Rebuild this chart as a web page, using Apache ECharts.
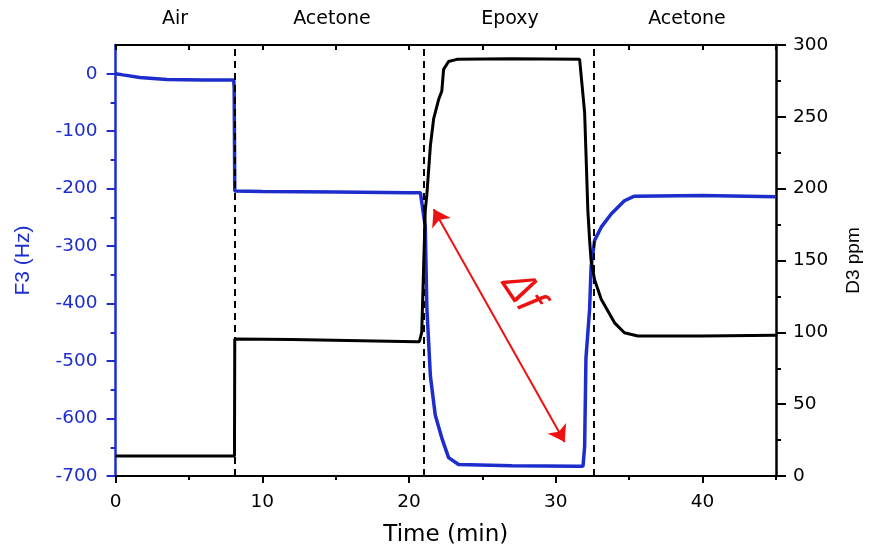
<!DOCTYPE html>
<html>
<head>
<meta charset="utf-8">
<script src="https://cdn.jsdelivr.net/npm/echarts@6/dist/echarts.min.js"></script>
<style>
  html, body { margin: 0; padding: 0; background: #fff; }
  #chart { width: 871px; height: 552px; }
</style>
</head>
<body>
<div id="chart"></div>
<script>
// F3 (Hz), left axis
const blueTime = [0, 0.5, 1.65, 3.5, 6, 8.05, 8.08, 8.12, 10, 15, 20, 20.77, 21.1, 21.21, 21.45, 21.78, 22.23, 22.69, 23.37, 27, 31.51, 31.85, 31.96, 32.05, 32.3, 32.4, 32.64, 33.09, 33.77, 34.67, 35.35, 40, 45];
const blueF3 = [0, -2, -6.5, -10, -11, -11, -25, -204, -205, -206, -207, -207, -266, -408, -526, -594, -634, -668, -680, -682, -683, -683, -649, -495, -409, -336, -290, -267, -244, -221, -213, -212, -214];
// D3 ppm, right axis
const blackTime = [0, 8.1, 8.12, 12, 20.5, 20.7, 20.86, 20.97, 21.1, 21.21, 21.45, 21.67, 22.01, 22.23, 22.35, 22.69, 23.26, 27, 31.62, 31.75, 31.96, 32.07, 32.18, 32.3, 32.4, 32.64, 33.09, 34, 34.67, 35.58, 40, 45];
const blackD3 = [14, 14, 95.4, 95, 93.5, 93.5, 100, 138.7, 184.7, 196, 230, 248.5, 262, 268, 283, 288.5, 290, 290.5, 290, 289, 253, 219, 184.7, 164, 150, 136.6, 123, 106.6, 99.7, 97.5, 97.5, 98];

const switchTimes = [8.12, 21.0, 32.56];
const phaseNames = ['Air', 'Acetone', 'Epoxy', 'Acetone'];
const phaseX = [175, 332, 510, 687];
const arrowFrom = [21.67, -236];
const arrowTo = [30.6, -641];

const xMajor = [0, 10, 20, 30, 40];
const xMinor = [5, 15, 25, 35, 45];
const xAll = [0, 5, 10, 15, 20, 25, 30, 35, 40, 45];
const f3Major = [-700, -600, -500, -400, -300, -200, -100, 0];
const f3Minor = [-650, -550, -450, -350, -250, -150, -50];

const BLUE = '#1c2dcc';
const RED = '#ee1111';
const WIDE = 'DejaVu Sans';
const NARROW = 'Liberation Sans';

const pairs = (xs, ys) => xs.map((x, i) => [x, ys[i]]);

const chart = echarts.init(document.getElementById('chart'));

const baseX = { type: 'value', min: 0, max: 45, splitLine: { show: false }, axisLine: { onZero: false } };

chart.setOption({
  animation: false,
  backgroundColor: '#fff',
  textStyle: { fontFamily: WIDE },
  grid: { left: 115.6, right: 92, top: 45, bottom: 70.5, containLabel: false },
  xAxis: [
    Object.assign({}, baseX, {
      position: 'bottom',
      name: 'Time (min)', nameLocation: 'middle', nameGap: 48,
      nameTextStyle: { fontSize: 23, color: '#000', fontFamily: WIDE },
      axisLine: { onZero: false, lineStyle: { color: '#000', width: 2 } },
      axisTick: { customValues: xMajor, length: 7, lineStyle: { color: '#000', width: 2 } },
      axisLabel: { customValues: xMajor, margin: 17, fontSize: 18.5, color: '#000', fontFamily: WIDE }
    }),
    Object.assign({}, baseX, {
      position: 'bottom',
      axisLine: { show: false, onZero: false },
      axisTick: { customValues: xMinor, length: 4, lineStyle: { color: '#000', width: 2 } },
      axisLabel: { show: false }
    }),
    Object.assign({}, baseX, {
      position: 'top',
      axisLine: { onZero: false, lineStyle: { color: '#000', width: 2 } },
      axisTick: { customValues: xAll, inside: true, length: 5, lineStyle: { color: '#000', width: 2 } },
      axisLabel: { show: false }
    })
  ],
  yAxis: [
    {
      type: 'value', position: 'left', min: -700, max: 50,
      splitLine: { show: false },
      name: 'F3 (Hz)', nameLocation: 'middle', nameGap: 82, nameRotate: 90,
      nameTextStyle: { fontSize: 21, color: BLUE, fontFamily: NARROW },
      axisLine: { onZero: false, lineStyle: { color: BLUE, width: 2.5 } },
      axisTick: { customValues: f3Major, length: 9, lineStyle: { color: BLUE, width: 2 } },
      axisLabel: { customValues: f3Major, margin: 18, fontSize: 18.5, color: BLUE, fontFamily: WIDE }
    },
    {
      type: 'value', position: 'right', min: 0, max: 300, interval: 50,
      splitLine: { show: false },
      name: 'D3 ppm', nameLocation: 'middle', nameGap: 68, nameRotate: 90,
      nameTextStyle: { fontSize: 19, color: '#000', fontFamily: NARROW },
      axisLine: { onZero: false, lineStyle: { color: '#000', width: 2.5 } },
      axisTick: { length: 10, lineStyle: { color: '#000', width: 2 } },
      minorTick: { show: true, splitNumber: 2, length: 5, lineStyle: { color: '#000', width: 2 } },
      minorSplitLine: { show: false },
      axisLabel: { margin: 17, fontSize: 18.5, color: '#000', fontFamily: WIDE }
    },
    {
      type: 'value', position: 'left', min: -700, max: 50,
      splitLine: { show: false },
      axisLine: { show: false, onZero: false },
      axisTick: { customValues: f3Minor, length: 5, lineStyle: { color: BLUE, width: 2 } },
      axisLabel: { show: false }
    }
  ],
  series: [
    {
      name: 'F3', type: 'line', xAxisIndex: 0, yAxisIndex: 0,
      data: pairs(blueTime, blueF3),
      showSymbol: false, z: 3,
      lineStyle: { color: BLUE, width: 3.5 },
      itemStyle: { color: BLUE },
      markLine: {
        silent: true, symbol: ['arrow', 'arrow'], symbolSize: 16,
        label: { show: false },
        lineStyle: { color: RED, width: 2, type: 'solid' },
        data: [[{ coord: arrowFrom }, { coord: arrowTo }]]
      }
    },
    {
      name: 'D3', type: 'line', xAxisIndex: 0, yAxisIndex: 1,
      data: pairs(blackTime, blackD3),
      showSymbol: false, z: 4,
      lineStyle: { color: '#000', width: 3 },
      itemStyle: { color: '#000' },
      markLine: {
        silent: true, symbol: 'none',
        label: { show: false },
        lineStyle: { color: '#000', width: 2, type: [7, 5] },
        data: switchTimes.map(t => ({ xAxis: t }))
      }
    }
  ],
  graphic: phaseNames.map((s, i) => ({
    type: 'text', x: phaseX[i], y: 19,
    style: { text: s, font: '19px ' + WIDE, fill: '#000', align: 'center', verticalAlign: 'middle' }
  })).concat([{
    // the original figure is stretched sideways, so the rotated label is too
    type: 'group', x: 522, y: 292, scaleX: 1.27,
    children: [{
      type: 'text', rotation: -62 * Math.PI / 180,
      style: { text: 'Δf', font: '38px ' + NARROW, fill: RED, align: 'center', verticalAlign: 'middle' }
    }]
  }])
});
</script>
</body>
</html>
